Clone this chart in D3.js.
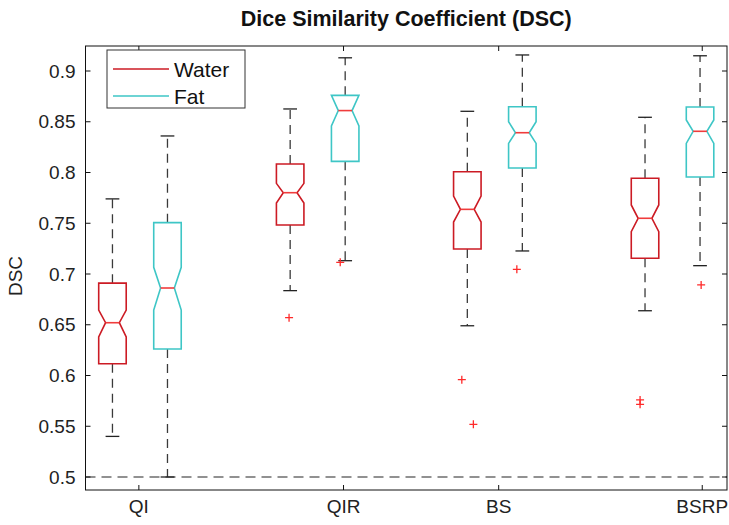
<!DOCTYPE html>
<html>
<head>
<meta charset="utf-8">
<script src="https://cdn.jsdelivr.net/npm/d3@7"></script>
<style>
  html, body { margin: 0; padding: 0; background: #fff; }
  svg { display: block; font-family: "Liberation Sans", Arial, sans-serif; }
</style>
</head>
<body>
<svg id="chart" width="729" height="525"></svg>
<script>
// Categories and series
const categories = ["QI", "QIR", "BS", "BSRP"];
const seriesNames = ["Water", "Fat"];

// Box positions on the x axis (one per category, per series)
const waterPos = [1, 4.23, 7.45, 10.68];
const fatPos = [2, 5.23, 8.45, 11.68];
const tickPos = [1.48, 5.2, 8.02, 11.72];

// Water statistics
const waterWhiskerHi = [0.774, 0.8626, 0.8603, 0.8544];
const waterQ3 = [0.691, 0.8084, 0.8008, 0.7943];
const waterNotchHi = [0.6645, 0.7893, 0.7768, 0.768];
const waterMedian = [0.652, 0.7801, 0.7637, 0.7549];
const waterNotchLo = [0.638, 0.770, 0.7512, 0.7417];
const waterQ1 = [0.6116, 0.7483, 0.7246, 0.7155];
const waterWhiskerLo = [0.540, 0.6836, 0.649, 0.6638];
const waterOutliers = [[], [0.657], [0.5959, 0.5519], [0.5759, 0.5716]];
const waterJitter = [[], [-0.02], [-0.1, 0.11], [-0.09, -0.09]];

// Fat statistics
const fatWhiskerHi = [0.836, 0.913, 0.9158, 0.915];
const fatQ3 = [0.7506, 0.876, 0.8648, 0.8645];
const fatNotchHi = [0.7066, 0.876, 0.850, 0.8517];
const fatMedian = [0.6862, 0.861, 0.8392, 0.8406];
const fatNotchLo = [0.6645, 0.8458, 0.8287, 0.8287];
const fatQ1 = [0.6261, 0.811, 0.8044, 0.7956];
const fatWhiskerLo = [0.5, 0.7131, 0.7227, 0.7082];
const fatOutliers = [[], [0.7115], [0.7046], [0.6892]];
const fatJitter = [[], [-0.09], [-0.1], [0.02]];

// Axis ticks and reference line
const yTicks = [0.5, 0.55, 0.6, 0.65, 0.7, 0.75, 0.8, 0.85, 0.9];
const yTickLabels = ["0.5", "0.55", "0.6", "0.65", "0.7", "0.75", "0.8", "0.85", "0.9"];
const refLine = 0.5;

const colors = { Water: "#cc1b24", Fat: "#3ec6c6" };
const medianColor = "#f03c3c";
const whiskerColor = "#3a3a3a";
const outlierColor = "#ff2a2a";

const margin = { left: 85.5, right: 2, top: 46, bottom: 35 };
const W = 729, H = 525;
const plotL = margin.left, plotR = W - margin.right;
const plotT = margin.top, plotB = H - margin.bottom;

const x = d3.scaleLinear().domain([0.51, 12.17]).range([plotL, plotR]);
const y = d3.scaleLinear().domain([0.5, 0.9]).range([477, 71]);
y.domain([y.invert(plotB), y.invert(plotT)]).range([plotB, plotT]);

const svg = d3.select("#chart");
svg.append("rect").attr("width", W).attr("height", H).attr("fill", "#fff");

const boxHalf = 0.25, notchHalf = 0.125, capHalf = 0.125;

// Reference line at DSC = 0.5
svg.append("line")
  .attr("x1", plotL).attr("x2", plotR)
  .attr("y1", y(refLine)).attr("y2", y(refLine))
  .attr("stroke", "#6e6e6e").attr("stroke-width", 1.5)
  .attr("stroke-dasharray", "10,6");

const series = [
  { name: "Water", pos: waterPos, wHi: waterWhiskerHi, q3: waterQ3, nHi: waterNotchHi, med: waterMedian,
    nLo: waterNotchLo, q1: waterQ1, wLo: waterWhiskerLo, out: waterOutliers, jit: waterJitter },
  { name: "Fat", pos: fatPos, wHi: fatWhiskerHi, q3: fatQ3, nHi: fatNotchHi, med: fatMedian,
    nLo: fatNotchLo, q1: fatQ1, wLo: fatWhiskerLo, out: fatOutliers, jit: fatJitter }
];

series.forEach(s => {
  const g = svg.append("g");
  categories.forEach((c, i) => {
    const p = s.pos[i];
    const xc = x(p);
    // whiskers
    [[s.q3[i], s.wHi[i]], [s.q1[i], s.wLo[i]]].forEach(([a, b]) => {
      g.append("line")
        .attr("x1", xc).attr("x2", xc).attr("y1", y(a)).attr("y2", y(b))
        .attr("stroke", whiskerColor).attr("stroke-width", 1.3)
        .attr("stroke-dasharray", "9,6");
      g.append("line")
        .attr("x1", x(p - capHalf)).attr("x2", x(p + capHalf))
        .attr("y1", y(b)).attr("y2", y(b))
        .attr("stroke", "#222").attr("stroke-width", 1.3);
    });
    // notched box
    const nHi = Math.min(s.nHi[i], s.q3[i]);
    const nLo = Math.max(s.nLo[i], s.q1[i]);
    const pts = [
      [p - boxHalf, s.q3[i]], [p + boxHalf, s.q3[i]], [p + boxHalf, nHi],
      [p + notchHalf, s.med[i]], [p + boxHalf, nLo], [p + boxHalf, s.q1[i]],
      [p - boxHalf, s.q1[i]], [p - boxHalf, nLo], [p - notchHalf, s.med[i]],
      [p - boxHalf, nHi]
    ];
    g.append("path")
      .attr("d", "M" + pts.map(d => x(d[0]) + "," + y(d[1])).join("L") + "Z")
      .attr("fill", "none").attr("stroke", colors[s.name]).attr("stroke-width", 1.6)
      .attr("stroke-linejoin", "miter");
    // median
    g.append("line")
      .attr("x1", x(p - notchHalf)).attr("x2", x(p + notchHalf))
      .attr("y1", y(s.med[i])).attr("y2", y(s.med[i]))
      .attr("stroke", medianColor).attr("stroke-width", 1.6);
    // outliers
    s.out[i].forEach((v, k) => {
      const ox = x(p + s.jit[i][k]), oy = y(v), r = 4;
      g.append("path")
        .attr("d", `M${ox - r},${oy}H${ox + r}M${ox},${oy - r}V${oy + r}`)
        .attr("stroke", outlierColor).attr("stroke-width", 1.3).attr("fill", "none");
    });
  });
});

// Axes frame
svg.append("rect")
  .attr("x", plotL).attr("y", plotT)
  .attr("width", plotR - plotL).attr("height", plotB - plotT)
  .attr("fill", "none").attr("stroke", "#111").attr("stroke-width", 1);

const tickLen = 5;
// y ticks, left and right
yTicks.forEach((v, i) => {
  const yy = y(v);
  svg.append("line").attr("x1", plotL).attr("x2", plotL + tickLen).attr("y1", yy).attr("y2", yy)
    .attr("stroke", "#111");
  svg.append("line").attr("x1", plotR).attr("x2", plotR - tickLen).attr("y1", yy).attr("y2", yy)
    .attr("stroke", "#111");
  svg.append("text").attr("x", plotL - 10).attr("y", yy).attr("dy", "0.35em")
    .attr("text-anchor", "end").attr("font-size", 19).attr("fill", "#222")
    .text(yTickLabels[i]);
});

// x ticks, bottom and top
tickPos.forEach((p, i) => {
  const xx = x(p);
  svg.append("line").attr("x1", xx).attr("x2", xx).attr("y1", plotB).attr("y2", plotB - tickLen)
    .attr("stroke", "#111");
  svg.append("line").attr("x1", xx).attr("x2", xx).attr("y1", plotT).attr("y2", plotT + tickLen)
    .attr("stroke", "#111");
  svg.append("text").attr("x", xx).attr("y", plotB + 16).attr("dy", "0.35em")
    .attr("text-anchor", "middle").attr("font-size", 19).attr("fill", "#222")
    .text(categories[i]);
});

// Axis label and title
svg.append("text")
  .attr("transform", `translate(22,${(plotT + plotB) / 2 + 8}) rotate(-90)`)
  .attr("text-anchor", "middle").attr("font-size", 19).attr("fill", "#222")
  .text("DSC");

svg.append("text")
  .attr("x", (plotL + plotR) / 2).attr("y", 26)
  .attr("text-anchor", "middle").attr("font-size", 21.5).attr("font-weight", "bold").attr("fill", "#111")
  .text("Dice Similarity Coefficient (DSC)");

// Legend
const lg = svg.append("g");
lg.append("rect").attr("x", 107).attr("y", 50).attr("width", 138).attr("height", 58)
  .attr("fill", "#fff").attr("stroke", "#333").attr("stroke-width", 1);
seriesNames.forEach((n, i) => {
  const ly = 69 + i * 27;
  lg.append("line").attr("x1", 113).attr("x2", 169).attr("y1", ly).attr("y2", ly)
    .attr("stroke", colors[n]).attr("stroke-width", 1.6);
  lg.append("text").attr("x", 174).attr("y", ly).attr("dy", "0.36em")
    .attr("font-size", 21).attr("fill", "#111").text(n);
});
</script>
</body>
</html>
